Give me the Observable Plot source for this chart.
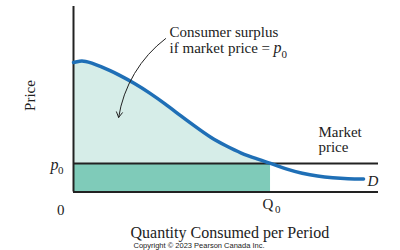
<!DOCTYPE html>
<html>
<head>
<meta charset="utf-8">
<script src="https://cdn.jsdelivr.net/npm/d3@7"></script>
<script src="https://cdn.jsdelivr.net/npm/@observablehq/plot@0.6"></script>
<style>
  html, body { margin: 0; padding: 0; background: #fff; }
  svg { display: block; }
</style>
</head>
<body>
<div id="chart"></div>
<script>
// Demand curve (quantity 0..100, price 0..100)
const quantity = [0, 2, 4, 6, 9, 12, 15, 20, 25, 30, 35, 40, 45, 50, 55, 60, 64.6, 70, 75, 80, 85, 90, 95.1];
const price    = [69.8, 70.5, 70.4, 69.5, 67.6, 65.4, 63.0, 58.5, 53.3, 47.5, 41.3, 35.2, 29.5, 24.9, 21.0, 18.0, 15.4, 12.3, 10.1, 8.6, 7.7, 7.2, 7.0];
const p0 = 15.4;   // market price
const Q0 = 64.6;   // quantity consumed at p0
const xMax = 100;
const yMax = 100;

const demand = quantity.map((q, i) => ({q, p: price[i]}));
const surplus = demand.filter(d => d.q <= Q0);

const serif = "Liberation Serif, Times New Roman, serif";
const ink = "#222";

const chart = Plot.plot({
  width: 400,
  height: 250,
  marginLeft: 73,
  marginRight: 22,
  marginTop: 6,
  marginBottom: 58.5,
  x: {domain: [0, xMax], axis: null},
  y: {domain: [0, yMax], axis: null},
  style: {fontFamily: serif, background: "#fff", overflow: "visible"},
  marks: [
    // expenditure rectangle below market price
    Plot.rect([{x1: 0, x2: Q0, y1: 0, y2: p0}], {x1: "x1", x2: "x2", y1: "y1", y2: "y2", fill: "#7fcbb9"}),
    // consumer surplus area
    Plot.areaY(surplus, {x: "q", y1: p0, y2: "p", fill: "#d6ede8", curve: "natural"}),
    // axes and market price line
    Plot.ruleY([0, p0], {x1: 0, x2: xMax, stroke: ink, strokeWidth: 2}),
    Plot.ruleX([0], {y1: 0, y2: yMax, stroke: ink, strokeWidth: 2}),
    // demand curve
    Plot.line(demand, {x: "q", y: "p", stroke: "#1f6fb6", strokeWidth: 3.5, curve: "natural"}),
    // annotation arrow
    Plot.arrow([{x1: 30.2, y1: 82.7, x2: 14.8, y2: 40.2}], {
      x1: "x1", y1: "y1", x2: "x2", y2: "y2", bend: -22, stroke: ink, strokeWidth: 1, headLength: 9
    }),
    // annotation text
    Plot.text(["Consumer surplus"], {x: 31.5, y: 83.3, text: d => d, textAnchor: "start", lineAnchor: "bottom", fontSize: 15, fill: ink}),
    Plot.text(["if market price = "], {x: 31.5, y: 74.7, text: d => d, textAnchor: "start", lineAnchor: "bottom", fontSize: 15, fill: ink}),
    Plot.text(["p"], {x: 65.6, y: 74.7, text: d => d, textAnchor: "start", lineAnchor: "bottom", fontSize: 16, fontStyle: "italic", fill: ink}),
    Plot.text(["0"], {x: 68.2, y: 72.5, text: d => d, textAnchor: "start", lineAnchor: "bottom", fontSize: 11, fill: ink}),
    Plot.text(["Market"], {x: 80.3, y: 29.9, text: d => d, textAnchor: "start", lineAnchor: "bottom", fontSize: 15, fill: ink}),
    Plot.text(["price"], {x: 80.3, y: 21.3, text: d => d, textAnchor: "start", lineAnchor: "bottom", fontSize: 15, fill: ink}),
    Plot.text(["D"], {x: 96.4, y: 3.0, text: d => d, textAnchor: "start", lineAnchor: "bottom", fontSize: 15, fontStyle: "italic", fill: ink}),
    // tick-like labels
    Plot.text(["p"], {x: 0, y: p0, dx: -23, dy: 7, text: d => d, textAnchor: "start", lineAnchor: "bottom", fontSize: 16, fontStyle: "italic", fill: ink}),
    Plot.text(["0"], {x: 0, y: p0, dx: -15.5, dy: 11, text: d => d, textAnchor: "start", lineAnchor: "bottom", fontSize: 11, fill: ink}),
    Plot.text(["0"], {x: 0, y: 0, dx: -9, dy: 22.5, text: d => d, textAnchor: "end", lineAnchor: "bottom", fontSize: 15, fill: ink}),
    Plot.text(["Q"], {x: Q0, y: 0, dx: -8, dy: 17, text: d => d, textAnchor: "start", lineAnchor: "bottom", fontSize: 15, fill: ink}),
    Plot.text(["0"], {x: Q0, y: 0, dx: 4.5, dy: 20.5, text: d => d, textAnchor: "start", lineAnchor: "bottom", fontSize: 11, fill: ink}),
    // axis titles
    Plot.text(["Price"], {x: 0, y: 52, dx: -43, text: d => d, rotate: -90, fontSize: 15, fill: ink}),
    Plot.text(["Quantity Consumed per Period"], {x: 0, y: 0, dx: 57, dy: 45.5, text: d => d, textAnchor: "start", lineAnchor: "bottom", fontSize: 16, fill: ink}),
    Plot.text(["Copyright © 2023 Pearson Canada Inc."], {x: 0, y: 0, dx: 60, dy: 55.5, text: d => d, textAnchor: "start", lineAnchor: "bottom", fontSize: 7.5, fontFamily: "Liberation Sans, Arial, sans-serif", fill: ink})
  ]
});

document.getElementById("chart").appendChild(chart);
</script>
</body>
</html>
